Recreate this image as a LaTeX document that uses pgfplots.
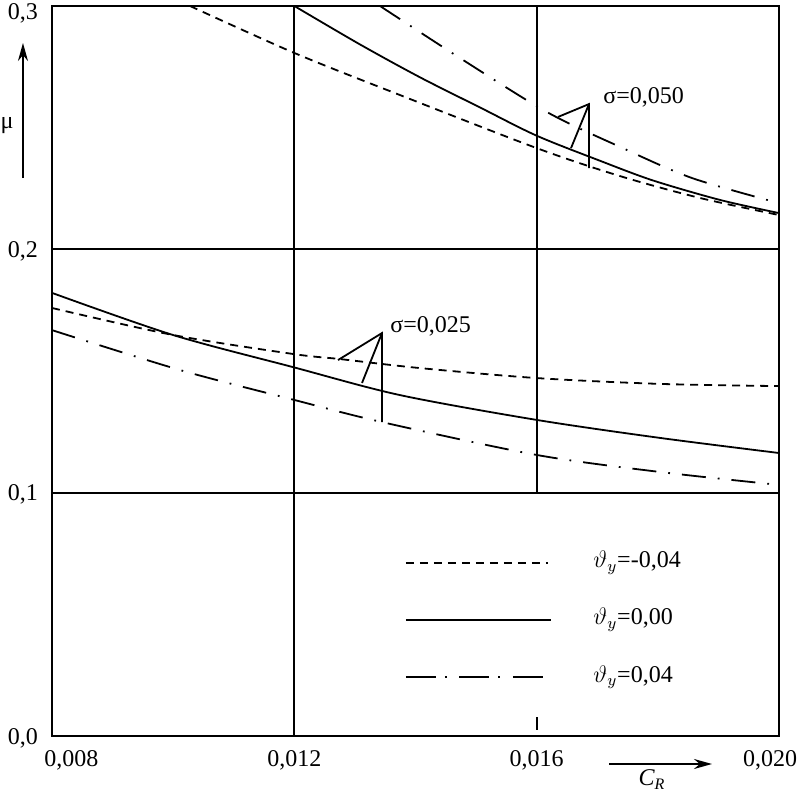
\documentclass[border=0pt]{standalone}
\usepackage{fontspec}
\setmainfont{Liberation Serif}
\usepackage{pgfplots}
\pgfplotsset{compat=1.18}
\usetikzlibrary{arrows.meta}

\begin{document}
\begin{tikzpicture}[font=\fontsize{12}{14}\selectfont]
\begin{axis}[
  scale only axis, width=363.5pt, height=365pt,
  xmin=0.008, xmax=0.020, ymin=0, ymax=0.3,
  axis line style={line width=1.1pt},
  clip=false,
  scaled x ticks=false, scaled y ticks=false,
  xtick={0.008,0.012,0.016,0.020},
  xticklabels={{\makebox[0pt]{\hspace{19.5pt}0,008}},{0,012},{0,016},{\makebox[0pt]{0,020\hspace{9pt}}}},
  ytick={0,0.1,0.2,0.3},
  yticklabels={{0,0},{0,1},{0,2},{\raisebox{-2.5pt}[\height][\depth]{0,3}}},
  major tick length=0pt,
  xticklabel style={yshift=-3.5pt},
  yticklabel style={xshift=-3.5pt, yshift=-1pt},
  every tick label/.append style={font=\fontsize{12}{14}\selectfont},
  dsh/.style={line width=0.9pt, dash pattern=on 4pt off 3pt},
  sld/.style={line width=0.9pt},
  ddt/.style={line width=0.9pt, dash pattern=on 12pt off 6pt on 0.9pt off 6pt},
  ddtleg/.style={line width=0.9pt, dash pattern=on 15pt off 4.5pt on 0.9pt off 6.3pt},
]
\coordinate (SW) at (rel axis cs:0,0);
\coordinate (NE) at (rel axis cs:1,1);

% grid lines
\draw[line width=1pt] (axis cs:0.012,0) -- (axis cs:0.012,0.3);
\draw[line width=1pt] (axis cs:0.016,0.1) -- (axis cs:0.016,0.3);
\draw[line width=1pt] (axis cs:0.008,0.1) -- (axis cs:0.020,0.1);
\draw[line width=1pt] (axis cs:0.008,0.2) -- (axis cs:0.020,0.2);
\draw[line width=1pt] (axis cs:0.016,0.0025) -- (axis cs:0.016,0.008);

% upper group (sigma = 0.050)
\addplot[dsh, smooth] coordinates {
 (0.010278,0.3000) (0.012,0.2807) (0.013744,0.2634) (0.016,0.2416)
 (0.017376,0.2301) (0.018696,0.2211) (0.020,0.2141)};
\addplot[sld, smooth] coordinates {
 (0.012,0.3000) (0.013084,0.2842) (0.014074,0.2707) (0.015065,0.2583)
 (0.016,0.2467) (0.017045,0.2364) (0.017920,0.2283) (0.019026,0.2203) (0.020,0.2149)};
\addplot[ddt, smooth] coordinates {
 (0.013414,0.3000) (0.014735,0.2786) (0.016171,0.2564) (0.017376,0.2421)
 (0.018564,0.2293) (0.020,0.2190)};

% lower group (sigma = 0.025)
\addplot[sld, smooth] coordinates {
 (0.008,0.1821) (0.009997,0.1648) (0.011978,0.1516) (0.013744,0.1401)
 (0.016,0.1299) (0.018036,0.1225) (0.020,0.1163)};
\addplot[dsh, smooth] coordinates {
 (0.008,0.1759) (0.009997,0.1648) (0.011978,0.1570) (0.012754,0.1549)
 (0.014074,0.1512) (0.016,0.1471) (0.018036,0.1447) (0.020,0.1438)};
\addplot[ddt, smooth] coordinates {
 (0.008,0.1668) (0.010113,0.1504) (0.012,0.1381) (0.013447,0.1290)
 (0.016,0.1155) (0.018036,0.1085) (0.020,0.1032)};

% annotations
\draw[line width=0.9pt] (axis cs:0.016352,0.2544) -- (axis cs:0.016864,0.2597) -- (axis cs:0.016864,0.2334);
\draw[line width=0.9pt] (axis cs:0.016864,0.2597) -- (axis cs:0.016567,0.2416);
\node[anchor=west, inner sep=0pt] at (axis cs:0.017095,0.2626) {σ=0,050};
\draw[line width=0.9pt] (axis cs:0.012721,0.1545) -- (axis cs:0.013447,0.1656) -- (axis cs:0.013447,0.1290);
\draw[line width=0.9pt] (axis cs:0.013447,0.1656) -- (axis cs:0.013117,0.1451);
\node[anchor=west, inner sep=0pt] at (axis cs:0.013579,0.1685) {σ=0,025};

% legend
\addplot[dsh] coordinates {(0.013843,0.0711) (0.016187,0.0711)};
\addplot[sld] coordinates {(0.013843,0.0477) (0.016237,0.0477)};
\addplot[ddtleg] coordinates {(0.013843,0.0242) (0.016187,0.0242)};
\node[anchor=west, inner sep=0pt] at (axis cs:0.01693,0.0711) {$\vartheta_{y}$=-0,04};
\node[anchor=west, inner sep=0pt] at (axis cs:0.01693,0.0477) {$\vartheta_{y}$=0,00};
\node[anchor=west, inner sep=0pt] at (axis cs:0.01693,0.0242) {$\vartheta_{y}$=0,04};

% axis name arrows
\draw[line width=0.9pt, -{Stealth[length=9pt,width=5pt]}] (axis cs:0.007521,0.2293) -- (axis cs:0.007521,0.2848);
\node[inner sep=0pt] at (axis cs:0.007257,0.2507) {μ};
\draw[line width=0.9pt, -{Stealth[length=9pt,width=5pt]}] (axis cs:0.017194,-0.0115) -- (axis cs:0.018894,-0.0115);
\node[inner sep=0pt] at (axis cs:0.017904,-0.0180) {\itshape C\textsubscript{R}};
\end{axis}
\pgfresetboundingbox
\path ([shift={(-26pt,-28.5pt)}]SW) rectangle ([shift={(10.5pt,3pt)}]NE);
\end{tikzpicture}
\end{document}
